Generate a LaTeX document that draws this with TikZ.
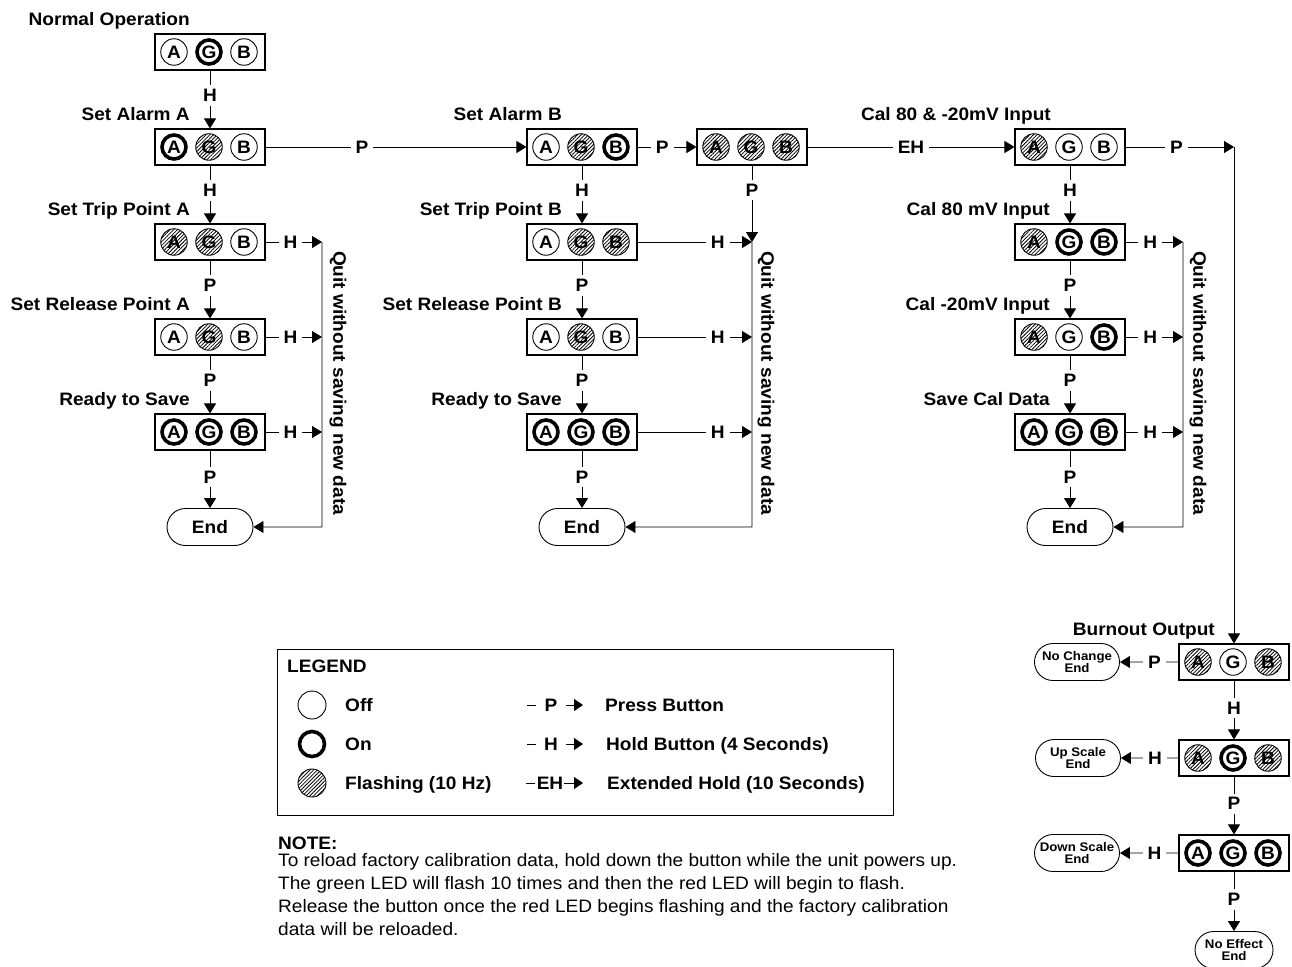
\documentclass[tikz,border=0pt]{standalone}
\usepackage{fontspec}
\setmainfont{Liberation Sans}[FakeStretch=1.06]
\usetikzlibrary{arrows.meta,patterns.meta,shapes.misc}

\newcommand\ledpanel[5]{%
  \node[panel] (#1) at (#2) {};
  \node[#3] (#1a) at ([xshift=-36pt]#1.center) {A};
  \node[#4] (#1g) at ([xshift=-1pt]#1.center) {G};
  \node[#5] (#1b) at ([xshift=34pt]#1.center) {B};
}

\tikzset{
  bigfont/.style={font=\bfseries\fontsize{18}{21}\selectfont},
  conn/.style={line width=0.9pt},
  arr/.style={conn,-{Triangle[length=10pt,width=12pt]}},
  legarr/.style={conn,-{Triangle[length=9pt,width=12pt]}},
  lbl/.style={bigfont,fill=white,inner xsep=5pt,inner ysep=4pt},
  ttl/.style={bigfont,anchor=base east,inner sep=0pt},
  quit/.style={bigfont,rotate=-90,inner sep=0pt},
  panel/.style={draw,line width=1.1pt,minimum width=110pt,minimum height=36pt,inner sep=0pt},
  led/.style={circle,inner sep=0pt,font=\bfseries\fontsize{18}{18}\selectfont},
  off/.style={led,draw,line width=0.9pt,minimum size=26.5pt},
  on/.style={led,draw,line width=3.6pt,minimum size=24pt},
  fl/.style={led,draw,line width=0.9pt,minimum size=26.5pt,pattern={Lines[angle=45,distance=2.6pt,line width=0.8pt]}},
  endn/.style={draw,rounded rectangle,line width=0.9pt,minimum width=86pt,minimum height=37pt,inner sep=0pt,bigfont},
  sende/.style={draw,rounded rectangle,line width=0.9pt,minimum width=85pt,minimum height=37pt,inner sep=0pt,align=center,font=\bfseries\fontsize{12.5}{12.5}\selectfont},
  legtxt/.style={bigfont,anchor=base west,inner sep=0pt},
  notetxt/.style={font=\fontsize{18}{21}\selectfont,anchor=base west,inner sep=0pt},
}

\begin{document}
\begin{tikzpicture}[x=1pt,y=-1pt]
\useasboundingbox (0,0) rectangle (1292,966);

% ---------------- Column A ----------------
\ledpanel{nA}{210,52}{off}{on}{off}
\ledpanel{sA}{210,147}{on}{fl}{off}
\ledpanel{tA}{210,242}{fl}{fl}{off}
\ledpanel{rA}{210,337}{off}{fl}{off}
\ledpanel{vA}{210,432}{on}{on}{on}
\node[endn] (eA) at (210,527) {End};

\node[ttl] (TnA) at (190,25.5) {Normal Operation};
\node[ttl] (TsA) at (190,120.5) {Set Alarm A};
\node[ttl] (TtA) at (190,215.5) {Set Trip Point A};
\node[ttl] (TrA) at (190,310.5) {Set Release Point A};
\node[ttl] (TvA) at (190,405.5) {Ready to Save};

\draw[arr] (nA) -- node[lbl,pos=.43]{H} (sA);
\draw[arr] (sA) -- node[lbl,pos=.43]{H} (tA);
\draw[arr] (tA) -- node[lbl,pos=.43]{P} (rA);
\draw[arr] (rA) -- node[lbl,pos=.43]{P} (vA);
\draw[arr] (vA) -- node[lbl,pos=.46]{P} (eA);

\coordinate (qA1) at (322,242);
\coordinate (qA2) at (322,527);
\draw[arr] (tA) -- node[lbl,pos=.44]{H} (qA1);
\draw[arr] (rA) -- node[lbl,pos=.44]{H} (rA -| qA1);
\draw[arr] (vA) -- node[lbl,pos=.44]{H} (vA -| qA1);
\draw[arr] (qA1) -- (qA2) -- (eA);
\node[quit] (QA) at (338,383) {Quit without saving new data};

% ---------------- Column B ----------------
\ledpanel{sB}{582,147}{off}{fl}{on}
\ledpanel{fB}{752,147}{fl}{fl}{fl}
\ledpanel{tB}{582,242}{off}{fl}{fl}
\ledpanel{rB}{582,337}{off}{fl}{off}
\ledpanel{vB}{582,432}{on}{on}{on}
\node[endn] (eB) at (582,527) {End};

\node[ttl] (TsB) at (562,120.5) {Set Alarm B};
\node[ttl] (TtB) at (562,215.5) {Set Trip Point B};
\node[ttl] (TrB) at (562,310.5) {Set Release Point B};
\node[ttl] (TvB) at (562,405.5) {Ready to Save};

\draw[arr] (sA) -- node[lbl,pos=.37]{P} (sB);
\draw[arr] (sB) -- node[lbl,pos=.42]{P} (fB);
\draw[arr] (sB) -- node[lbl,pos=.43]{H} (tB);
\draw[arr] (tB) -- node[lbl,pos=.43]{P} (rB);
\draw[arr] (rB) -- node[lbl,pos=.43]{P} (vB);
\draw[arr] (vB) -- node[lbl,pos=.46]{P} (eB);

\coordinate (qB1) at (752,242);
\coordinate (qB2) at (752,527);
\draw[arr] (fB) -- node[lbl,pos=.32]{P} (qB1);
\draw[arr] (tB) -- node[lbl,pos=.7]{H} (qB1);
\draw[arr] (rB) -- node[lbl,pos=.7]{H} (rB -| qB1);
\draw[arr] (vB) -- node[lbl,pos=.7]{H} (vB -| qB1);
\draw[arr] (qB1) -- (qB2) -- (eB);
\node[quit] (QB) at (766,383) {Quit without saving new data};

% ---------------- Column C ----------------
\ledpanel{cC}{1070,147}{fl}{off}{off}
\ledpanel{mC}{1070,242}{fl}{on}{on}
\ledpanel{nC}{1070,337}{fl}{off}{on}
\ledpanel{dC}{1070,432}{on}{on}{on}
\node[endn] (eC) at (1070,527) {End};

\node[ttl] (TcC) at (1051,120.5) {Cal 80 \& -20mV Input};
\node[ttl] (TmC) at (1050,215.5) {Cal 80 mV Input};
\node[ttl] (TnC) at (1050,310.5) {Cal -20mV Input};
\node[ttl] (TdC) at (1050,405.5) {Save Cal Data};

\draw[arr] (fB) -- node[lbl,pos=.5]{EH} (cC);
\draw[arr] (cC) -- node[lbl,pos=.43]{H} (mC);
\draw[arr] (mC) -- node[lbl,pos=.43]{P} (nC);
\draw[arr] (nC) -- node[lbl,pos=.43]{P} (dC);
\draw[arr] (dC) -- node[lbl,pos=.46]{P} (eC);

\coordinate (qC1) at (1183,242);
\coordinate (qC2) at (1183,527);
\draw[arr] (mC) -- node[lbl,pos=.43]{H} (qC1);
\draw[arr] (nC) -- node[lbl,pos=.43]{H} (nC -| qC1);
\draw[arr] (dC) -- node[lbl,pos=.43]{H} (dC -| qC1);
\draw[arr] (qC1) -- (qC2) -- (eC);
\node[quit] (QC) at (1198,383) {Quit without saving new data};

% ---------------- Burnout ----------------
\coordinate (tr1) at (1234,147);
\draw[arr] (cC) -- node[lbl,pos=.47]{P} (tr1);

\ledpanel{bo1}{1234,662}{fl}{off}{fl}
\ledpanel{bo2}{1234,758}{fl}{on}{fl}
\ledpanel{bo3}{1234,853}{on}{on}{on}
\node[ttl] (Tbo) at (1215,635) {Burnout Output};

\draw[arr] (tr1) -- (bo1);

\node[sende] (ncE) at (1077,662) {No Change\\End};
\node[sende] (usE) at (1078,758) {Up Scale\\End};
\node[sende] (dsE) at (1077,853) {Down Scale\\End};
\node[sende,minimum width=78pt] (neE) at (1234,950) {No Effect\\End};

\draw[arr] (bo1) -- node[lbl,pos=.41]{P} (ncE);
\draw[arr] (bo2) -- node[lbl,pos=.41]{H} (usE);
\draw[arr] (bo3) -- node[lbl,pos=.41]{H} (dsE);
\draw[arr] (bo1) -- node[lbl,pos=.47]{H} (bo2);
\draw[arr] (bo2) -- node[lbl,pos=.47]{P} (bo3);
\draw[arr] (bo3) -- node[lbl,pos=.47]{P} (neE);

% ---------------- Legend ----------------
\node[draw,line width=1pt,minimum width=616pt,minimum height=166pt,inner sep=0pt] (leg) at (585,732) {};
\node[legtxt] (legT) at (287,672) {LEGEND};
\node[off,minimum size=28pt] (lg1) at (312,705) {};
\node[on,minimum size=25pt] (lg2) at (312,744) {};
\node[fl,minimum size=28pt] (lg3) at (312,783) {};
\node[legtxt] (lt1) at (345,711) {Off};
\node[legtxt] (lt2) at (345,750) {On};
\node[legtxt] (lt3) at (345,789) {Flashing (10 Hz)};

\node[bigfont,inner sep=0pt] (lsP) at (551,705) {P};
\node[bigfont,inner sep=0pt] (lsH) at (551,744) {H};
\node[bigfont,inner sep=0pt] (lsE) at (550,783) {EH};
\draw[conn] (527,705) -- (536,705);
\draw[conn] (527,744) -- (536,744);
\draw[conn] (526,783) -- (535,783);
\draw[legarr] (566,705) -- (583,705);
\draw[legarr] (566,744) -- (583,744);
\draw[legarr] (564,783) -- (583,783);
\node[legtxt] (ld1) at (605,711) {Press Button};
\node[legtxt] (ld2) at (606,750) {Hold Button (4 Seconds)};
\node[legtxt] (ld3) at (607,789) {Extended Hold (10 Seconds)};

% ---------------- Note ----------------
\node[legtxt] (n0) at (278,849) {NOTE:};
\node[notetxt] (n1) at (278,866) {To reload factory calibration data, hold down the button while the unit powers up.};
\node[notetxt] (n2) at (278,889) {The green LED will flash 10 times and then the red LED will begin to flash.};
\node[notetxt] (n3) at (278,912) {Release the button once the red LED begins flashing and the factory calibration};
\node[notetxt] (n4) at (278,935) {data will be reloaded.};
\end{tikzpicture}
\end{document}
